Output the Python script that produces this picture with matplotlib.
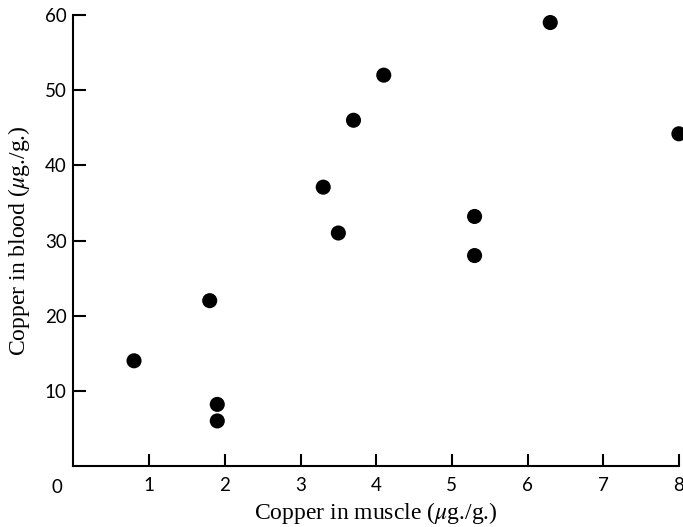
import matplotlib
matplotlib.use("Agg")
import matplotlib.pyplot as plt

# copper content
muscle_cu = [0.8, 1.8, 1.9, 1.9, 3.3, 3.5, 3.7, 4.1, 5.3, 5.3, 6.3, 8.0]
blood_cu = [14.0, 22.0, 8.2, 6.0, 37.1, 31.0, 46.0, 52.0, 33.2, 28.0, 59.0, 44.2]

x_ticks = [1, 2, 3, 4, 5, 6, 7, 8]
y_ticks = [10, 20, 30, 40, 50, 60]

plt.rcParams['mathtext.fontset'] = 'stix'

fig = plt.figure(figsize=(6.83, 5.27), dpi=100)
ax = fig.add_axes([0.1076, 0.1157, 0.8864, 0.8558])

ax.scatter(muscle_cu, blood_cu, s=118, c='black', edgecolors='none',
           clip_on=False, zorder=3)

ax.set_xlim(0, 8)
ax.set_ylim(0, 60)
ax.spines['top'].set_visible(False)
ax.spines['right'].set_visible(False)
for side in ['left', 'bottom']:
    ax.spines[side].set_linewidth(1.5)

ax.set_xticks(x_ticks)
ax.set_yticks(y_ticks)
ax.tick_params(direction='in', length=9, width=1.5, labelsize=13.5)
ax.tick_params(axis='x', pad=8)
ax.tick_params(axis='y', pad=5)
for lbl in ax.get_xticklabels() + ax.get_yticklabels():
    lbl.set_family('Lato')

# lone origin label at the corner
ax.annotate("0", xy=(0, 0), xytext=(-12, -15.5), textcoords='offset points',
            ha='center', va='center', fontsize=13.5, family='Lato')

ax.set_xlabel(r"Copper in muscle ($\mu$g./g.)", family='Liberation Serif',
              fontsize=17, labelpad=4)
ax.set_ylabel(r"Copper in blood ($\mu$g./g.)", family='Liberation Serif',
              fontsize=17, labelpad=9)

fig.savefig("out.png", dpi=100)
